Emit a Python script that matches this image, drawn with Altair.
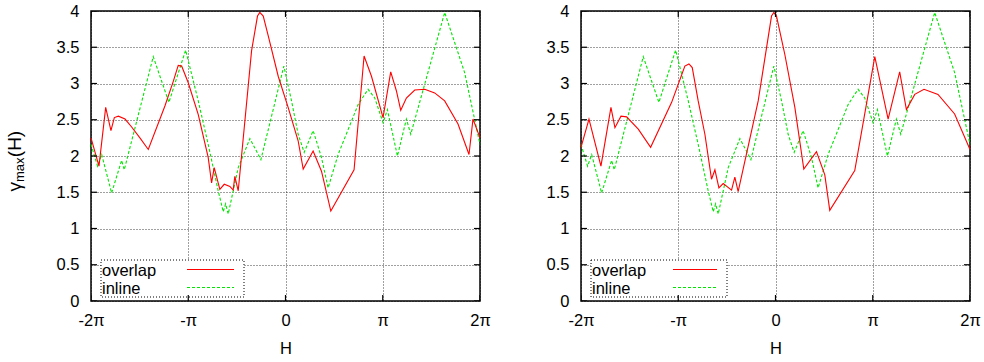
import json
import altair as alt
import pandas as pd

# ---------------- data ----------------
H_TICK_VALUES = [-2, -1, 0, 1, 2]            # H in units of pi
H_TICK_LABELS = ["-2π", "-π", "0", "π", "2π"]
GAMMA_TICK_VALUES = [0, 0.5, 1, 1.5, 2, 2.5, 3, 3.5, 4]
SERIES = ["overlap", "inline"]

# left panel, "overlap"
left_overlap_h = [-2.0, -1.918, -1.849, -1.795, -1.76, -1.719, -1.65, -1.582, -1.497, -1.411,
                  -1.24, -1.154, -1.103, -1.068, -1.0, -0.897, -0.795, -0.76, -0.733, -0.675,
                  -0.63, -0.572, -0.538, -0.521, -0.486, -0.349, -0.288, -0.264, -0.229, -0.178,
                  -0.075, 0.027, 0.13, 0.182, 0.284, 0.37, 0.466, 0.705, 0.808, 0.884,
                  1.003, 1.082, 1.14, 1.185, 1.243, 1.329, 1.432, 1.534, 1.637, 1.774,
                  1.887, 1.928, 2.0]
left_overlap_g = [2.25, 1.86, 2.67, 2.35, 2.53, 2.55, 2.51, 2.40, 2.25, 2.09,
                  2.69, 3.03, 3.25, 3.24, 3.01, 2.57, 1.98, 1.63, 1.84, 1.54,
                  1.61, 1.58, 1.53, 1.72, 1.52, 3.45, 3.93, 3.98, 3.93, 3.66,
                  3.10, 2.67, 2.21, 1.82, 2.07, 1.79, 1.24, 1.81, 3.38, 3.10,
                  2.53, 3.16, 2.90, 2.63, 2.80, 2.91, 2.92, 2.87, 2.76, 2.44,
                  2.02, 2.51, 2.25]

# "inline" (same in both panels)
inline_h = [-2.0, -1.932, -1.89, -1.788, -1.685, -1.658, -1.36, -1.199, -1.027, -0.897,
            -0.795, -0.692, -0.64, -0.616, -0.589, -0.486, -0.366, -0.253, -0.017, 0.062,
            0.13, 0.192, 0.284, 0.37, 0.438, 0.541, 0.747, 0.849, 0.918, 1.003,
            1.048, 1.151, 1.243, 1.288, 1.637, 1.842, 2.0]
inline_g = [2.16, 1.86, 2.02, 1.49, 1.94, 1.81, 3.37, 2.74, 3.46, 2.76,
            2.16, 1.52, 1.23, 1.34, 1.20, 1.84, 2.24, 1.95, 3.24, 2.76,
            2.30, 2.05, 2.35, 1.98, 1.56, 2.02, 2.71, 2.92, 2.80, 2.46,
            2.64, 2.0, 2.51, 2.30, 3.98, 3.15, 2.16]

# right panel, "overlap"
right_overlap_h = [-2.0, -1.918, -1.795, -1.692, -1.651, -1.589, -1.531, -1.411, -1.284, -1.068,
                   -0.932, -0.89, -0.856, -0.795, -0.726, -0.658, -0.623, -0.582, -0.538, -0.452,
                   -0.418, -0.384, -0.178, -0.041, -0.017, 0.01, 0.096, 0.199, 0.291, 0.421,
                   0.507, 0.558, 0.815, 1.021, 1.158, 1.277, 1.346, 1.432, 1.527, 1.671,
                   1.842, 2.0]
right_overlap_g = [2.12, 2.51, 1.86, 2.67, 2.39, 2.55, 2.54, 2.37, 2.12, 2.74,
                   3.24, 3.27, 3.22, 2.76, 2.30, 1.68, 1.81, 1.56, 1.62, 1.53,
                   1.71, 1.51, 2.76, 3.93, 3.98, 3.93, 3.40, 2.67, 1.82, 2.06,
                   1.74, 1.25, 1.80, 3.37, 2.51, 3.16, 2.64, 2.85, 2.92, 2.85,
                   2.58, 2.09]

# ---------------- style ----------------
W, HGT = 389, 290
FONT = "Liberation Sans"
FS = 16.5
RED = "#ff0000"
GREEN = "#00e600"

label_expr = (json.dumps(H_TICK_LABELS, ensure_ascii=False)
              + "[indexof(" + json.dumps(H_TICK_VALUES) + ", datum.value)]")

x_axis = alt.Axis(values=H_TICK_VALUES, labelExpr=label_expr, title="H",
                  labelFlush=False, labelOverlap=False)
y_axis = alt.Axis(values=GAMMA_TICK_VALUES, format="~g", title=None, labelOverlap=False)

x_scale = alt.Scale(domain=[-2, 2], nice=False, zero=False)
y_scale = alt.Scale(domain=[0, 4], nice=False, zero=False)


def panel(ov_h, ov_g, box_w, sample_x0, sample_x1, with_title):
    ov = pd.DataFrame({"H": ov_h, "gamma": ov_g, "order": list(range(len(ov_h)))})
    inl = pd.DataFrame({"H": inline_h, "gamma": inline_g, "order": list(range(len(inline_h)))})

    X = alt.X("H:Q", scale=x_scale, axis=x_axis)
    Y = alt.Y("gamma:Q", scale=y_scale, axis=y_axis)

    inline_line = alt.Chart(inl).mark_line(color=GREEN, strokeWidth=1.1, strokeDash=[3, 2]).encode(
        x=X, y=Y, order="order:Q")
    overlap_line = alt.Chart(ov).mark_line(color=RED, strokeWidth=1.1).encode(
        x=X, y=Y, order="order:Q")

    yt = pd.DataFrame({"H": [-2] * len(GAMMA_TICK_VALUES) + [2] * len(GAMMA_TICK_VALUES),
                       "gamma": GAMMA_TICK_VALUES * 2})
    xt = pd.DataFrame({"H": H_TICK_VALUES * 2,
                       "gamma": [0] * len(H_TICK_VALUES) + [4] * len(H_TICK_VALUES)})
    yticks = alt.Chart(yt).mark_tick(orient="horizontal", size=12, thickness=1.2,
                                     color="black", clip=True, opacity=1).encode(x=X, y=Y)
    xticks = alt.Chart(xt).mark_tick(orient="vertical", size=12, thickness=1.2,
                                     color="black", clip=True, opacity=1).encode(x=X, y=Y)

    one = pd.DataFrame({"k": [0]})
    box = alt.Chart(one).mark_rect(fill="white", stroke="black", strokeWidth=1,
                                   strokeDash=[1, 2]).encode(
        x=alt.value(10), x2=alt.value(10 + box_w), y=alt.value(249), y2=alt.value(286))
    t1 = alt.Chart(one).mark_text(align="left", baseline="middle", font=FONT, fontSize=FS,
                                  color="black").encode(
        x=alt.value(11), y=alt.value(259.5), text=alt.value(SERIES[0]))
    t2 = alt.Chart(one).mark_text(align="left", baseline="middle", font=FONT, fontSize=FS,
                                  color="black").encode(
        x=alt.value(11), y=alt.value(277.5), text=alt.value(SERIES[1]))
    s1 = alt.Chart(one).mark_rule(color=RED, strokeWidth=1.1).encode(
        x=alt.value(sample_x0), x2=alt.value(sample_x1), y=alt.value(258.5))
    s2 = alt.Chart(one).mark_rule(color=GREEN, strokeWidth=1.1, strokeDash=[3, 2]).encode(
        x=alt.value(sample_x0), x2=alt.value(sample_x1), y=alt.value(276.5))

    layers = [box, inline_line, overlap_line, yticks, xticks, t1, t2, s1, s2]

    if with_title:
        g = alt.Chart(one).mark_text(align="left", baseline="alphabetic", angle=270,
                                     font=FONT, fontSize=19, color="black").encode(
            x=alt.value(-70), y=alt.value(180.5), text=alt.value("γ"))
        sub = alt.Chart(one).mark_text(align="left", baseline="alphabetic", angle=270,
                                       font=FONT, fontSize=13, color="black").encode(
            x=alt.value(-67), y=alt.value(171), text=alt.value("max"))
        par = alt.Chart(one).mark_text(align="left", baseline="alphabetic", angle=270,
                                       font=FONT, fontSize=19, color="black").encode(
            x=alt.value(-70), y=alt.value(146.2), text=alt.value("(H)"))
        layers += [g, sub, par]

    return alt.layer(*layers).properties(width=W, height=HGT)


left = panel(left_overlap_h, left_overlap_g, 143, 96, 143, True)
right = panel(right_overlap_h, right_overlap_g, 136, 92, 136, False)

chart = alt.hconcat(left, right, spacing=101, bounds="flush").properties(
    padding={"left": 5, "top": 2, "right": 0, "bottom": 0}
).configure_axis(
    labelFont=FONT, labelFontSize=FS, labelColor="black",
    titleFont=FONT, titleFontSize=FS, titleFontWeight="normal", titleColor="black",
    domain=False, ticks=False, grid=True, gridColor="black", gridDash=[1, 2],
    gridOpacity=0.75, gridWidth=1,
).configure_axisX(labelPadding=11, titlePadding=12).configure_axisY(labelPadding=12).configure_view(
    stroke="black", strokeWidth=1.5
)

chart.save("out.html", embed_options={"renderer": "svg", "actions": False})
